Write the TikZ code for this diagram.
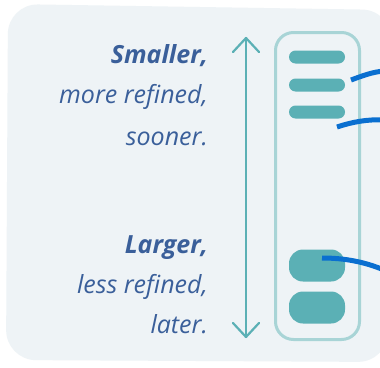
\documentclass[tikz,border=0pt]{standalone}
\usepackage{fontspec}
\setmainfont{Open Sans}
\definecolor{panel}{HTML}{EEF3F6}
\definecolor{teal}{HTML}{5BB0B5}
\definecolor{boxline}{HTML}{A8D4D6}
\definecolor{txt}{HTML}{3A5F9A}
\definecolor{link}{HTML}{0A6FD0}
\begin{document}
\begin{tikzpicture}[x=1pt,y=-1pt,
  lbl/.style={anchor=base east,inner sep=0pt,text=txt,font=\fontsize{25}{30}\selectfont\itshape},
  bar/.style={fill=teal,rounded corners=6.5pt,minimum width=56pt,minimum height=13pt,inner sep=0pt},
  pill/.style={fill=teal,rounded corners=14pt,minimum width=56pt,minimum height=32pt,inner sep=0pt},
  linkline/.style={draw=link,line width=5pt},
  scale arrow/.style={draw=teal,line width=2.2pt},
]
\useasboundingbox (0,0) rectangle (380,367);
\fill[white] (0,0) rectangle (380,367);
\fill[panel,rounded corners=30pt] (8,4) -- (392,10) -- (388,362) -- (6,360) -- cycle;
% labels
\node[lbl] (t1) at (208,63) {\bfseries Smaller,};
\node[lbl] (t2) at (208,103) {more refined,};
\node[lbl] (t3) at (208,145) {sooner.};
\node[lbl] (t4) at (208,253) {\bfseries Larger,};
\node[lbl] (t5) at (208,293) {less refined,};
\node[lbl] (t6) at (208,333) {later.};
% scale arrow
\coordinate (atop) at (246,38);
\coordinate (abot) at (246,337);
\draw[scale arrow] (atop) -- (abot);
\draw[scale arrow,line cap=round,line join=round] ([shift={(-13,14)}]atop) -- (atop) -- ([shift={(13,14)}]atop);
\draw[scale arrow,line cap=round,line join=round] ([shift={(-13,-14)}]abot) -- (abot) -- ([shift={(13,-14)}]abot);
% container
\node[draw=boxline,line width=3pt,fill=panel,rounded corners=18pt,minimum width=84pt,minimum height=307pt,inner sep=0pt] (box) at (317.5,186) {};
% bars
\node[bar] (b1) at (317,57) {};
\node[bar] (b2) at (317,85) {};
\node[bar] (b3) at (317,112) {};
\node[pill] (p1) at (317,265.5) {};
\node[pill] (p2) at (317,307.5) {};
% connectors leaving the picture
\coordinate (s1) at (351,80);
\coordinate (e1) at (384,71);
\coordinate (s2) at (337,127);
\coordinate (e2) at (384,120);
\coordinate (s3) at (322,258);
\coordinate (e3) at (384,270);
\draw[linkline] (s1) .. controls (362,76) and (372,72) .. (e1);
\draw[linkline] (s2) .. controls (352,122) and (368,119) .. (e2);
\draw[linkline] (s3) .. controls (345,258) and (365,262) .. (e3);
\end{tikzpicture}
\end{document}
